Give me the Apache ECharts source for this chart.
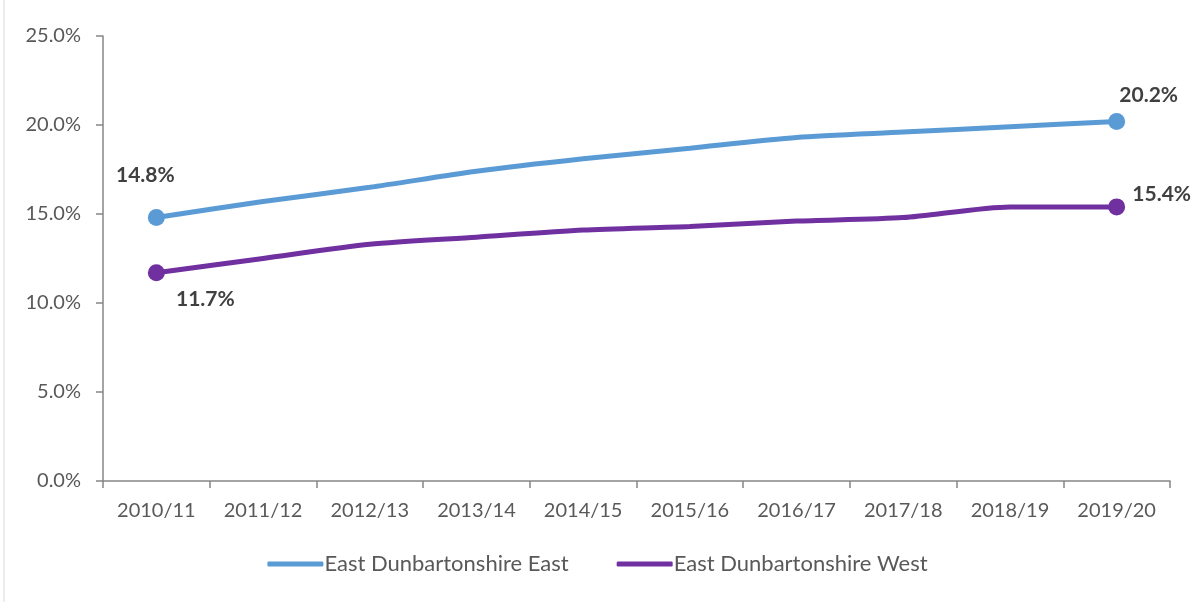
<!DOCTYPE html>
<html>
<head>
<meta charset="utf-8">
<script src="https://cdn.jsdelivr.net/npm/echarts@6/dist/echarts.min.js"></script>
<style>
  html, body { margin: 0; padding: 0; background: #fff; }
  #container { width: 1195px; height: 602px; }
</style>
</head>
<body>
<div id="container"></div>
<script>
var years = ['2010/11', '2011/12', '2012/13', '2013/14', '2014/15', '2015/16', '2016/17', '2017/18', '2018/19', '2019/20'];
var eastValues = [14.8, 15.7, 16.5, 17.4, 18.1, 18.7, 19.3, 19.6, 19.9, 20.2];
var westValues = [11.7, 12.5, 13.3, 13.7, 14.1, 14.3, 14.6, 14.8, 15.4, 15.4];
var seriesNames = ['East Dunbartonshire East', 'East Dunbartonshire West'];

var textColor = '#595959';
var fontName = 'Lato';

// only first and last points get a marker and a label
function endPoints(values, firstOffset, lastOffset) {
    return values.map(function(v, i) {
        if (i === 0 || i === values.length - 1) {
            return {
                value: v,
                symbol: 'circle',
                symbolSize: 17,
                label: {
                    show: true,
                    position: 'inside',
                    offset: i === 0 ? firstOffset : lastOffset,
                    formatter: function(p) { return p.value.toFixed(1) + '%'; },
                    color: '#404040',
                    fontFamily: fontName,
                    fontWeight: 'bold',
                    fontSize: 21
                }
            };
        }
        return { value: v, symbol: 'none' };
    });
}

var dom = document.getElementById('container');
var myChart = echarts.init(dom);
var option = {
    animation: false,
    grid: { left: 103, right: 25, top: 36, bottom: 121 },
    graphic: [{
        type: 'line',
        shape: { x1: 4, y1: 0, x2: 4, y2: 602 },
        style: { stroke: '#d9d9d9', lineWidth: 1 }
    }],
    legend: {
        bottom: 22,
        left: 'center',
        icon: 'roundRect',
        itemWidth: 56,
        itemHeight: 5,
        itemGap: 48,
        textStyle: { color: textColor, fontFamily: fontName, fontSize: 22, padding: [0, 0, 0, -4] },
        data: seriesNames
    },
    xAxis: {
        type: 'category',
        data: years,
        boundaryGap: true,
        axisLine: { lineStyle: { color: '#868686', width: 1.5 } },
        axisTick: { show: true, length: 7, lineStyle: { color: '#868686', width: 1.5 } },
        axisLabel: { color: textColor, fontFamily: fontName, fontSize: 20, margin: 20 }
    },
    yAxis: {
        type: 'value',
        min: 0,
        max: 25,
        interval: 5,
        splitLine: { show: false },
        axisLine: { show: true, lineStyle: { color: '#868686', width: 1.5 } },
        axisTick: { show: true, length: 7, lineStyle: { color: '#868686', width: 1.5 } },
        axisLabel: {
            color: textColor, fontFamily: fontName, fontSize: 20, margin: 22,
            formatter: function(v) { return v.toFixed(1) + '%'; }
        }
    },
    series: [
        {
            name: seriesNames[0],
            type: 'line',
            smooth: 0.25,
            data: endPoints(eastValues, [-11, -42], [32, -26]),
            lineStyle: { color: '#5B9BD5', width: 5 },
            itemStyle: { color: '#5B9BD5' }
        },
        {
            name: seriesNames[1],
            type: 'line',
            smooth: 0.25,
            data: endPoints(westValues, [49, 26], [45, -13]),
            lineStyle: { color: '#7030A0', width: 5 },
            itemStyle: { color: '#7030A0' }
        }
    ]
};
myChart.setOption(option, true);
</script>
</body>
</html>
